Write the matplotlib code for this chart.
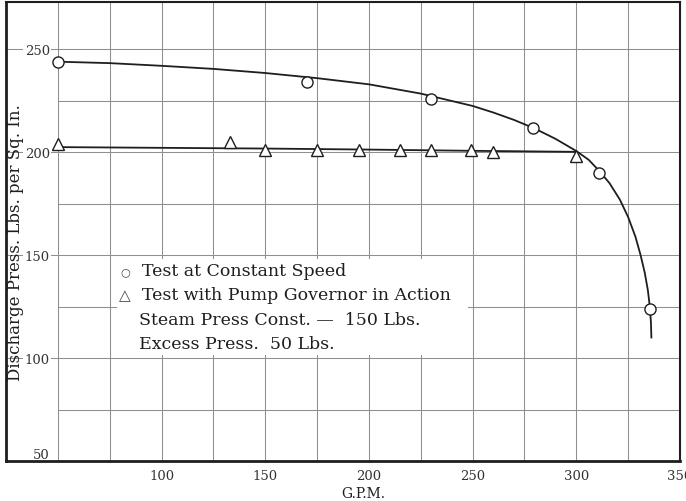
import matplotlib

matplotlib.use("Agg")
import matplotlib.pyplot as plt  # noqa: E402

# pump test readings, discharge pressure (lbs/sq in) vs. delivery (G.P.M.)
speed_gpm = [50, 170, 230, 279, 311, 335.5]
speed_press = [244, 234, 226, 212, 190, 124]

governor_gpm = [50, 133, 150, 175, 195, 215, 230, 249, 260, 300]
governor_press = [204, 205, 201, 201, 201, 201, 201, 201, 200, 198]

# hand-faired curve through the constant-speed points
speed_curve_gpm = [50, 75, 100, 125, 150, 175, 200, 225, 250, 260, 270, 280,
                   290, 300, 306, 311, 316, 321, 325, 328.5, 331, 333, 334.5,
                   335.5, 336, 336.2]
speed_curve_press = [244, 243.3, 242, 240.5, 238.5, 236, 233, 228.5, 222.5,
                     219.3, 215.7, 211.5, 206.5, 200.6, 196.3, 191, 185, 177,
                     168.5, 159, 150, 141.5, 133, 124.5, 117, 110]

# governor curve is nearly flat
governor_curve_gpm = [50, 150, 200, 250, 300]
governor_curve_press = [202.5, 201.8, 201.3, 200.7, 200.2]

x_ticks = [100, 150, 200, 250, 300, 350]
y_ticks = [50, 100, 150, 200, 250]
grid_x = [50, 75, 100, 125, 150, 175, 200, 225, 250, 275, 300, 325]
grid_y_major = [100, 150, 200, 250]
grid_y_minor = [75, 125, 175, 225]

note_symbols = ["\u25cb", "\u25b3", "", ""]
note_sizes = [8, 11, 0, 0]
notes = [
    "Test at Constant Speed",
    "Test with Pump Governor in Action",
    "Steam Press Const. \u2014  150 Lbs.",
    "Excess Press.  50 Lbs.",
]

INK = "#1e1e1e"
GRID = "#8f8f8f"
SERIF = ["DejaVu Serif", "DejaVu Sans"]

plt.rcParams["font.family"] = SERIF

fig = plt.figure(figsize=(6.86, 5.02), dpi=100)
ax = fig.add_axes([6 / 686, 40 / 502, 674 / 686, 459 / 502])
ax.set_xlim(25, 350)
ax.set_ylim(50, 273)

# grid: odd 25-lb lines stop at the 50 G.P.M. line, the rest run to the frame
for gx in grid_x:
    ax.axvline(gx, color=GRID, lw=0.75, zorder=1)
for gy in grid_y_major:
    ax.axhline(gy, color=GRID, lw=0.75, zorder=1)
ax.hlines(grid_y_minor, 50, 350, color=GRID, lw=0.75, zorder=1)

ax.plot(speed_curve_gpm, speed_curve_press, color=INK, lw=1.3, zorder=3)
ax.plot(governor_curve_gpm, governor_curve_press, color=INK, lw=1.3, zorder=3)
ax.plot(speed_gpm, speed_press, "o", ms=8, mfc="white", mec=INK, mew=1.0,
        zorder=4)
ax.plot(governor_gpm, governor_press, "^", ms=9, mfc="white", mec=INK,
        mew=1.0, zorder=4)

for side, lw in (("left", 2.0), ("bottom", 2.0), ("top", 1.5), ("right", 1.5)):
    ax.spines[side].set_linewidth(lw)
    ax.spines[side].set_color(INK)

ax.set_xticks(x_ticks)
ax.set_yticks(y_ticks)
ax.tick_params(axis="both", length=0, labelsize=9.5, labelcolor="#333333")
ax.tick_params(axis="x", pad=6)
ax.tick_params(axis="y", pad=-31.5)
for lab in ax.get_yticklabels():
    lab.set_bbox(dict(facecolor="white", edgecolor="none", pad=1.0))
ax.get_yticklabels()[0].set_va("bottom")

ax.set_xlabel("G.P.M.", fontsize=10, color=INK)
ax.xaxis.set_label_coords(0.53, -0.054)
ax.set_ylabel("Discharge Press. Lbs. per Sq. In.", fontsize=12, color=INK)
ax.yaxis.set_label_coords(0.014, 0.479)
ax.yaxis.label.set_va("center")

# note block: white patch behind the lettering, symbols set apart on the left
ax.add_patch(plt.Rectangle((0.165, 0.23), 0.52, 0.21, transform=ax.transAxes,
                           facecolor="white", edgecolor="none", zorder=2))
note_y = [0.414, 0.362, 0.309, 0.257]
for sym, size, text, ty in zip(note_symbols, note_sizes, notes, note_y):
    if sym:
        ax.text(0.177, ty, sym, transform=ax.transAxes, fontsize=size,
                color="#444444", va="center", ha="center", zorder=5)
        tx = 0.2018
    else:
        tx = 0.197
    ax.text(tx, ty, text, transform=ax.transAxes, fontsize=12.5,
            color=INK, va="center", ha="left", zorder=5)

fig.savefig("out.png", dpi=100, facecolor="white")
